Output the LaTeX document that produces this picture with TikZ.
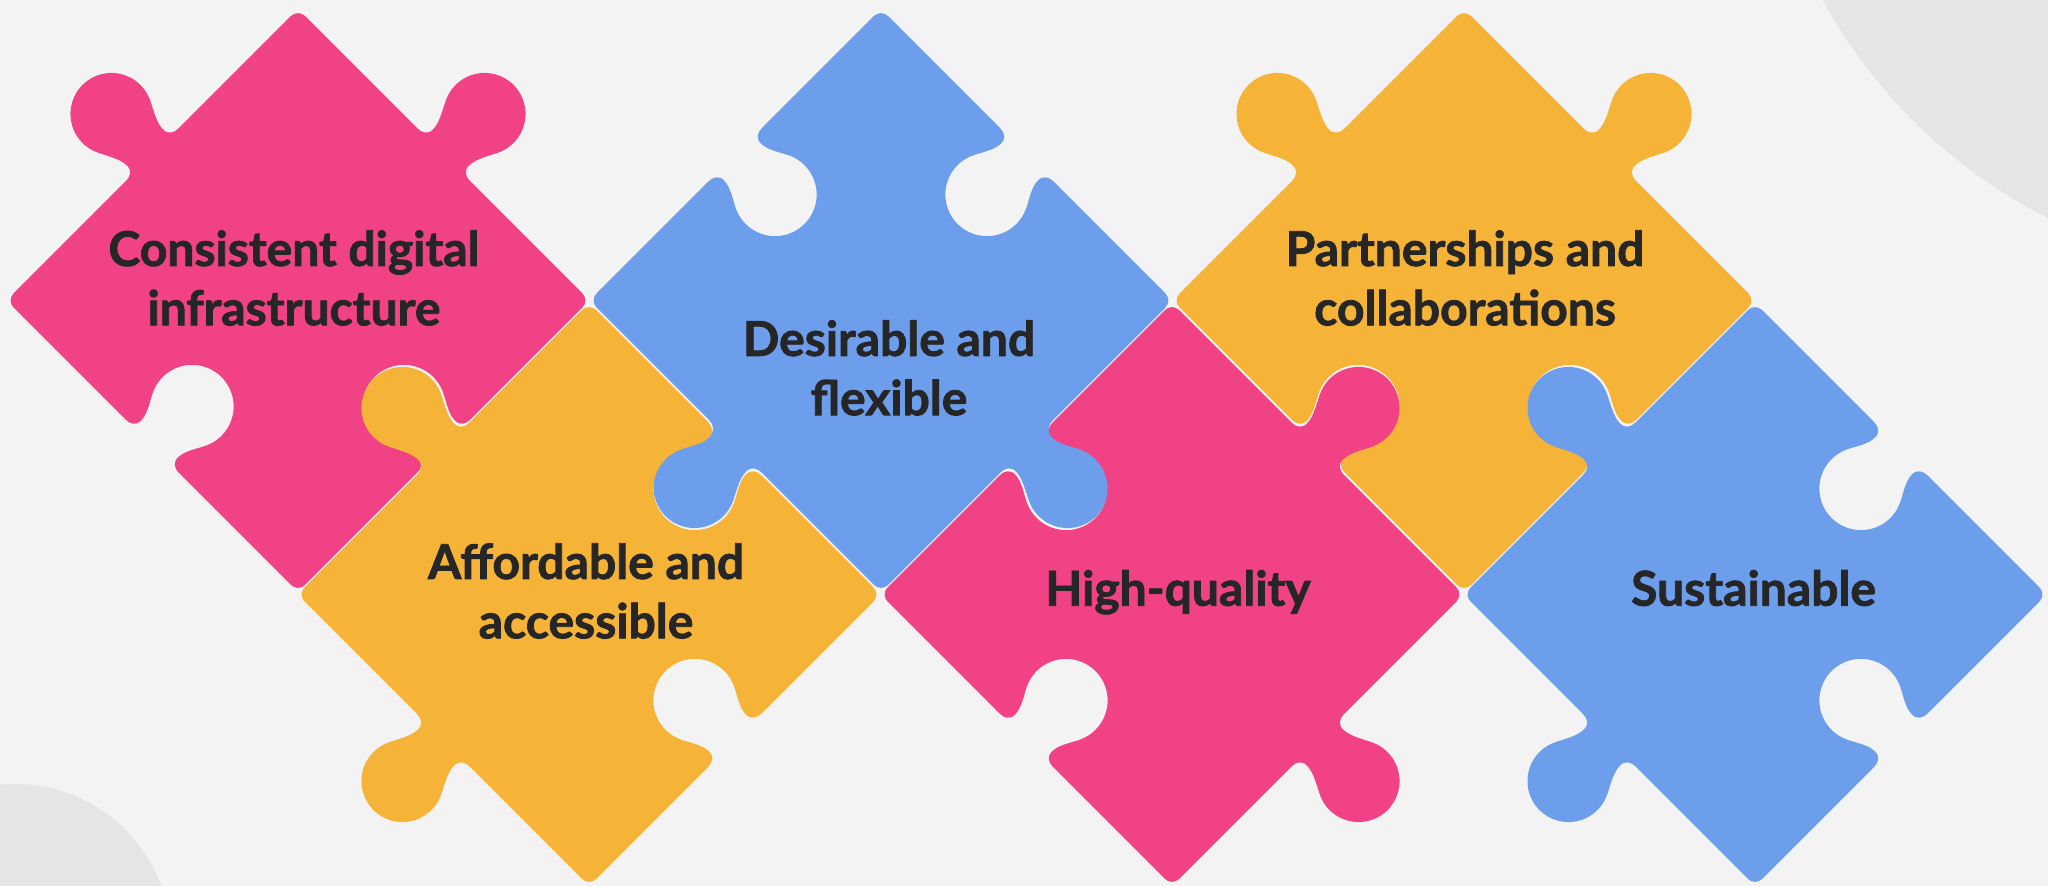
\documentclass[tikz,border=0pt]{standalone}
\usepackage{fontspec}
\setmainfont{Lato}[BoldFeatures={FakeBold=1.6}]

\definecolor{bg}{HTML}{F3F3F3}
\definecolor{disc}{HTML}{E5E5E5}
\definecolor{pieceRed}{HTML}{F04285}
\definecolor{pieceBlue}{HTML}{6D9EEB}
\definecolor{pieceGold}{HTML}{F5B337}
\definecolor{ink}{HTML}{262626}

% half diagonal of a piece (centre to sharp corner)
\def\D{291.5}

% tab profile: local x runs along the side, local y points outwards
\newcommand\knobpath{{[yscale=-1]
  -- (-37,0) .. controls (-31,0) and (-25.5,3) .. (-25.5,10)
  .. controls (-25.5,20) and (-32.93,31.31) .. (-37.16,40.37)
  arc[start angle=205,end angle=-25,radius=41]
  .. controls (32.93,31.31) and (25.5,20) .. (25.5,10)
  .. controls (25.5,3) and (31,0) .. (37,0)}}

% socket profile: same outline, cut into the piece
\newcommand\holepath{
  -- (-37.6,0) .. controls (-31.6,0) and (-26.1,3) .. (-26.1,10)
  .. controls (-26.1,20) and (-33.48,29.81) .. (-37.70,38.72)
  arc[start angle=205,end angle=-25,radius=41.6]
  .. controls (33.48,29.81) and (26.1,20) .. (26.1,10)
  .. controls (26.1,3) and (31.6,0) .. (37.6,0)}

% one side of the diamond (from the east corner to the north corner,
% rotated by #1), followed by the rounded corner at its end
\newcommand\pieceside[2]{{[rotate=#1]
  {[shift={(\D/2,\D/2)},rotate=135] #2}
  -- (7.07,\D-7.07) .. controls (3.165,\D-3.165) and (-3.165,\D-3.165) .. (-7.07,\D-7.07)}}

% piece at (#1,#2) in colour #3; sides: upper right, upper left, lower left, lower right
\newcommand\puzzlepiece[7]{%
  \fill[#3,shift={(#1,#2)}] (\D-7.07,7.07)
    \pieceside{0}{#4} \pieceside{90}{#5} \pieceside{180}{#6} \pieceside{270}{#7} -- cycle;}

\begin{document}
\begin{tikzpicture}[x=1pt,y=1pt,
  piecetext/.style={text=ink,font=\fontsize{48}{59.3}\selectfont\bfseries,
    align=center,anchor=base,inner sep=0pt}]
\useasboundingbox (0,0) rectangle (2048,886);
\fill[bg] (0,0) rectangle (2048,886);
\begin{scope}
  \clip (0,0) rectangle (2048,886);
  \fill[disc] (2284,1137) circle[radius=525];
  \fill[disc] (15,-54) circle[radius=156];
\end{scope}

% top row
\puzzlepiece{298}{585.5}{pieceRed}{\knobpath}{\knobpath}{\holepath}{\holepath}
\puzzlepiece{881}{585.5}{pieceBlue}{\holepath}{\holepath}{\knobpath}{\knobpath}
\puzzlepiece{1464}{585.5}{pieceGold}{\knobpath}{\knobpath}{\holepath}{\holepath}
% bottom row
\puzzlepiece{589}{291.5}{pieceGold}{\holepath}{\knobpath}{\knobpath}{\holepath}
\puzzlepiece{1172}{291.5}{pieceRed}{\knobpath}{\holepath}{\holepath}{\knobpath}
\puzzlepiece{1755}{291.5}{pieceBlue}{\holepath}{\knobpath}{\knobpath}{\holepath}

% labels, placed at the baseline of their last line
\node[piecetext] (infra) at (294,560.7) {Consistent digital\\infrastructure};
\node[piecetext] (desire) at (889,470.8) {Desirable and\\flexible};
\node[piecetext] (partner) at (1465,560.7) {Partnerships and\\collaborations};
\node[piecetext] (afford) at (586,247.7) {Affordable and\\accessible};
\node[piecetext] (quality) at (1178,280.3) {High-quality};
\node[piecetext] (sustain) at (1753.5,280.3) {Sustainable};
\end{tikzpicture}
\end{document}
